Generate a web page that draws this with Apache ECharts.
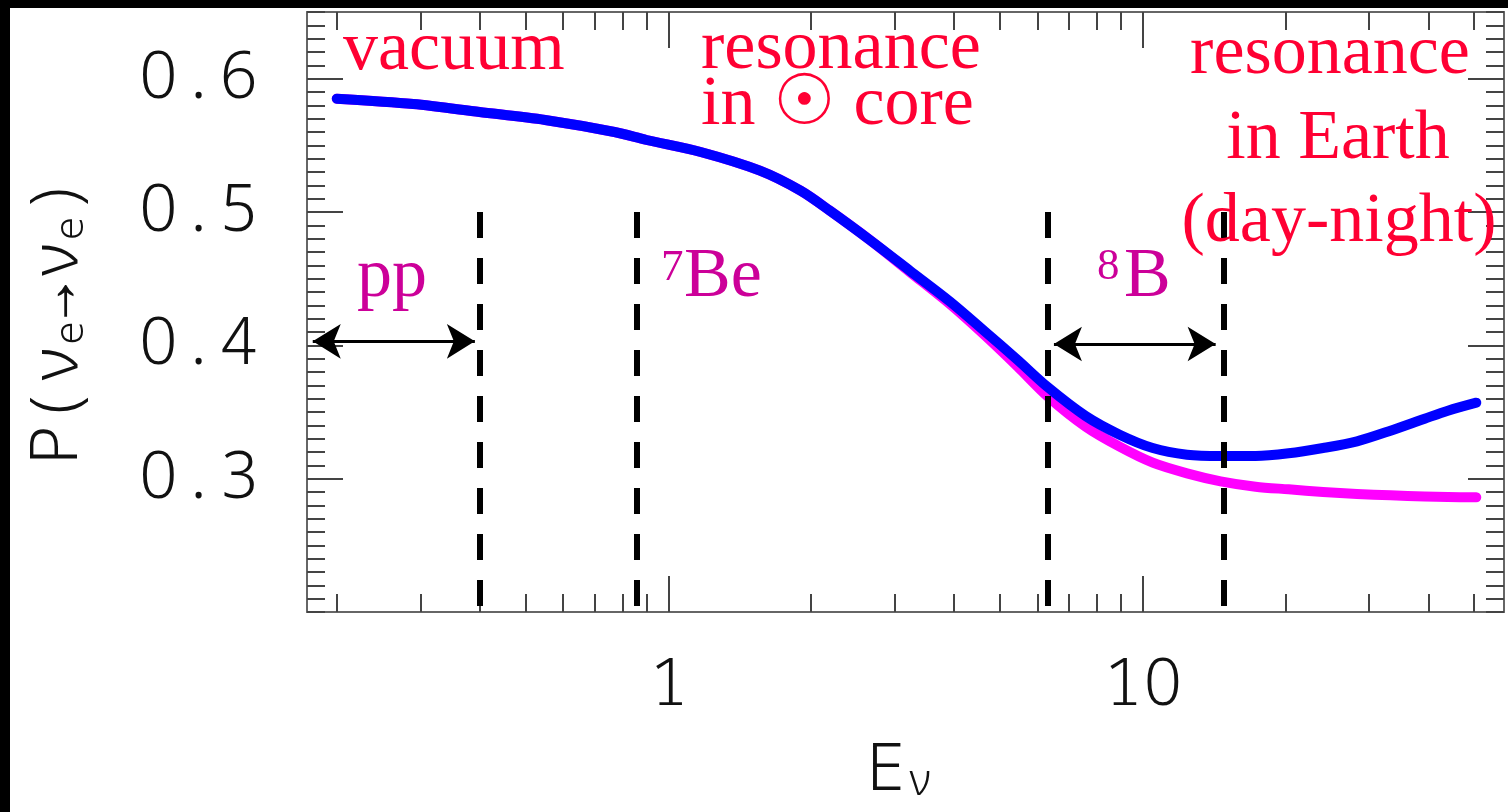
<!DOCTYPE html>
<html>
<head>
<meta charset="utf-8">
<script src="https://cdn.jsdelivr.net/npm/echarts@6/dist/echarts.min.js"></script>
<style>
  html, body { margin: 0; padding: 0; background: #ffffff; }
  #chart { width: 1508px; height: 812px; }
</style>
</head>
<body>
<div id="chart"></div>
<script>
// Neutrino energy in MeV (log axis)
const energy = [0.2, 0.29, 0.4, 0.55, 0.77, 0.9, 1.17, 1.56, 1.9, 2.19, 2.66, 3.23, 3.92, 4.63,
                5.45, 6.29, 7.58, 8.94, 10.5, 12.4, 14.6, 17.3, 20.3, 24.0, 28.3, 33.3, 39.3, 44.0, 50.5];
// Survival probability including regeneration in the Earth
const probEarth = [0.585, 0.581, 0.575, 0.569, 0.560, 0.554, 0.545, 0.531, 0.516, 0.501, 0.479, 0.456, 0.433, 0.411,
                   0.389, 0.369, 0.347, 0.333, 0.323, 0.318, 0.317, 0.317, 0.319, 0.323, 0.328, 0.336, 0.345, 0.351, 0.357];
// Survival probability without the Earth
const probSun = [0.585, 0.581, 0.575, 0.569, 0.560, 0.554, 0.545, 0.531, 0.516, 0.501, 0.479, 0.455, 0.431, 0.408,
                 0.384, 0.362, 0.339, 0.324, 0.312, 0.304, 0.298, 0.294, 0.292, 0.290, 0.2885, 0.2875, 0.2866, 0.2862, 0.286];

// Spectral edges of the solar neutrino sources (MeV)
const sourceEdges = [0.4, 0.86, 6.3, 14.8];
const edgeTop = 0.5;
const edgeBottom = 0.2;
// Double arrows marking the pp and 8B windows: [from, to, level]
const ppArrow = [0.178, 0.391, 0.403];
const b8Arrow = [6.5, 14.25, 0.401];

// Axis ranges, ticks and labels
const xMin = 0.1731, xMax = 57.77;
const yMin = 0.2, yMax = 0.65;
const xMajorTicks = [1, 10];
const xMinorTicks = [0.2, 0.3, 0.4, 0.5, 0.6, 0.7, 0.8, 0.9, 2, 3, 4, 5, 6, 7, 8, 9, 20, 30, 40, 50];
const yMajorTicks = [0.3, 0.4, 0.5, 0.6];

const RED = '#ff0033';
const MAG = '#cc0099';
const FRAME = '#666666';
const TICK = '#444444';
const MONO = '"Noto Sans Mono", "DejaVu Sans Mono", monospace';
const SANS = '"Noto Sans", "DejaVu Sans", sans-serif';
const SERIF = '"Liberation Serif", "DejaVu Serif", serif';
const AXIS_FONT = 67;
const CELL = 40.2;

// Tick labels set in fixed-width cells; zeros drawn as plain ovals
const cellStyle = (family) => ({ fontFamily: family, fontWeight: 300, fontSize: AXIS_FONT, color: '#111',
  width: CELL, align: 'center' });
const digitRich = { z: cellStyle(SANS), d: cellStyle(MONO) };
const cells = s => s.split('').map(c => (c === '0' ? '{z|0}' : '{d|' + c + '}')).join('');

function xAxisDef(position, major, withLine, withLabels) {
  return {
    type: 'log', logBase: 10, min: xMin, max: xMax, position: position,
    axisLine: { show: withLine, lineStyle: { color: FRAME, width: 2 } },
    axisTick: { show: true, inside: true, length: major ? 36 : 18,
      customValues: major ? xMajorTicks : xMinorTicks,
      lineStyle: { color: TICK, width: 2 } },
    axisLabel: withLabels ? {
      show: true, customValues: xMajorTicks, margin: 40,
      fontFamily: MONO, fontWeight: 300, fontSize: AXIS_FONT, color: '#111',
      formatter: v => cells(String(Math.round(v))), rich: digitRich
    } : { show: false },
    splitLine: { show: false }, minorTick: { show: false }
  };
}
function yAxisDef(position, major, withLine, withLabels) {
  return {
    type: 'value', min: yMin, max: yMax, interval: major ? 0.1 : 0.01, position: position,
    axisLine: { show: withLine, lineStyle: { color: FRAME, width: 2 } },
    axisTick: major
      ? { show: true, inside: true, length: 36, customValues: yMajorTicks, lineStyle: { color: TICK, width: 2 } }
      : { show: true, inside: true, length: 18, lineStyle: { color: TICK, width: 2 } },
    axisLabel: withLabels ? {
      show: true, customValues: yMajorTicks, margin: 48,
      fontFamily: MONO, fontWeight: 300, fontSize: AXIS_FONT, color: '#111',
      formatter: v => cells(v.toFixed(1)), rich: digitRich
    } : { show: false },
    splitLine: { show: false }
  };
}

const curveEarth = energy.map((e, i) => [e, probEarth[i]]);
const curveSun = energy.map((e, i) => [e, probSun[i]]);

const edgeLines = sourceEdges.map(e => [
  { coord: [e, edgeTop], symbol: 'none' },
  { coord: [e, edgeBottom], symbol: 'none' }
]);
const arrowLines = [ppArrow, b8Arrow].map(a => [
  { coord: [a[0], a[2]] },
  { coord: [a[1], a[2]] }
]);

function label(text, x, y, size, color, align) {
  return {
    type: 'text', silent: true, z: 50,
    style: { text: text, x: x, y: y, fill: color, align: align || 'left', verticalAlign: 'middle',
      fontFamily: SERIF, fontSize: size }
  };
}

const chart = echarts.init(document.getElementById('chart'), null, { renderer: 'canvas' });
chart.setOption({
  animation: false,
  backgroundColor: '#ffffff',
  grid: { left: 307, right: 4, top: 12, bottom: 200, containLabel: false },
  xAxis: [
    xAxisDef('bottom', false, true, true),
    xAxisDef('bottom', true, false, false),
    xAxisDef('top', false, true, false),
    xAxisDef('top', true, false, false)
  ],
  yAxis: [
    yAxisDef('left', false, true, false),
    yAxisDef('left', true, false, true),
    yAxisDef('right', false, true, false),
    yAxisDef('right', true, false, false)
  ],
  series: [
    {
      name: 'sun', type: 'line', xAxisIndex: 0, yAxisIndex: 0, data: curveSun,
      showSymbol: false, smooth: 0.3, z: 3,
      lineStyle: { color: '#ff00ff', width: 10, cap: 'round', join: 'round' }
    },
    {
      name: 'earth', type: 'line', xAxisIndex: 0, yAxisIndex: 0, data: curveEarth,
      showSymbol: false, smooth: 0.3, z: 4,
      lineStyle: { color: '#0000ff', width: 10, cap: 'round', join: 'round' }
    },
    {
      name: 'edges', type: 'line', xAxisIndex: 0, yAxisIndex: 0, data: [], z: 5,
      markLine: {
        silent: true, symbol: ['none', 'none'], label: { show: false },
        lineStyle: { color: '#000000', width: 6, type: [26, 20] },
        data: edgeLines
      }
    },
    {
      name: 'windows', type: 'line', xAxisIndex: 0, yAxisIndex: 0, data: [], z: 6,
      markLine: {
        silent: true, symbol: ['arrow', 'arrow'], symbolSize: [26, 28], label: { show: false },
        lineStyle: { color: '#000000', width: 3, type: 'solid' },
        itemStyle: { color: '#000000' },
        data: arrowLines
      }
    }
  ],
  graphic: [
    { type: 'rect', shape: { x: 0, y: 0, width: 1508, height: 8 }, style: { fill: '#000' }, z: 100, silent: true },
    { type: 'rect', shape: { x: 0, y: 0, width: 10, height: 812 }, style: { fill: '#000' }, z: 100, silent: true },
    label('vacuum', 343, 51, 70, RED),
    label('resonance', 701, 50, 70, RED),
    label('in \u2609 core', 701, 106, 70, RED),
    label('resonance', 1330, 55, 70, RED, 'center'),
    label('in Earth', 1338, 140, 70, RED, 'center'),
    label('(day-night)', 1339, 223, 70, RED, 'center'),
    label('pp', 357, 278, 70, MAG),
    label('7', 661, 268, 45, MAG),
    label('Be', 684, 278, 70, MAG),
    label('8', 1097, 267, 45, MAG),
    label('B', 1124, 278, 70, MAG),
    {
      type: 'text', silent: true, z: 50,
      style: {
        text: '{a|E}{s|\u03bd}', x: 866, y: 771, align: 'left', verticalAlign: 'middle',
        rich: {
          a: { fontFamily: MONO, fontWeight: 300, fontSize: AXIS_FONT, lineHeight: 67, fill: '#111', verticalAlign: 'middle' },
          s: { fontFamily: MONO, fontWeight: 300, fontSize: 44, lineHeight: 40, fill: '#111', verticalAlign: 'bottom' }
        }
      }
    },
    {
      type: 'text', silent: true, z: 50, x: 58, y: 321, rotation: Math.PI / 2,
      style: {
        text: '{a|P(\u03bd}{s|e}{a|\u2192\u03bd}{s|e}{a|)}', x: 0, y: 0, align: 'center', verticalAlign: 'middle',
        rich: {
          a: { fontFamily: MONO, fontWeight: 300, fontSize: AXIS_FONT, lineHeight: 67, fill: '#111', verticalAlign: 'middle' },
          s: { fontFamily: MONO, fontWeight: 300, fontSize: 40, lineHeight: 28, fill: '#111', verticalAlign: 'bottom' }
        }
      }
    }
  ]
});
</script>
</body>
</html>
